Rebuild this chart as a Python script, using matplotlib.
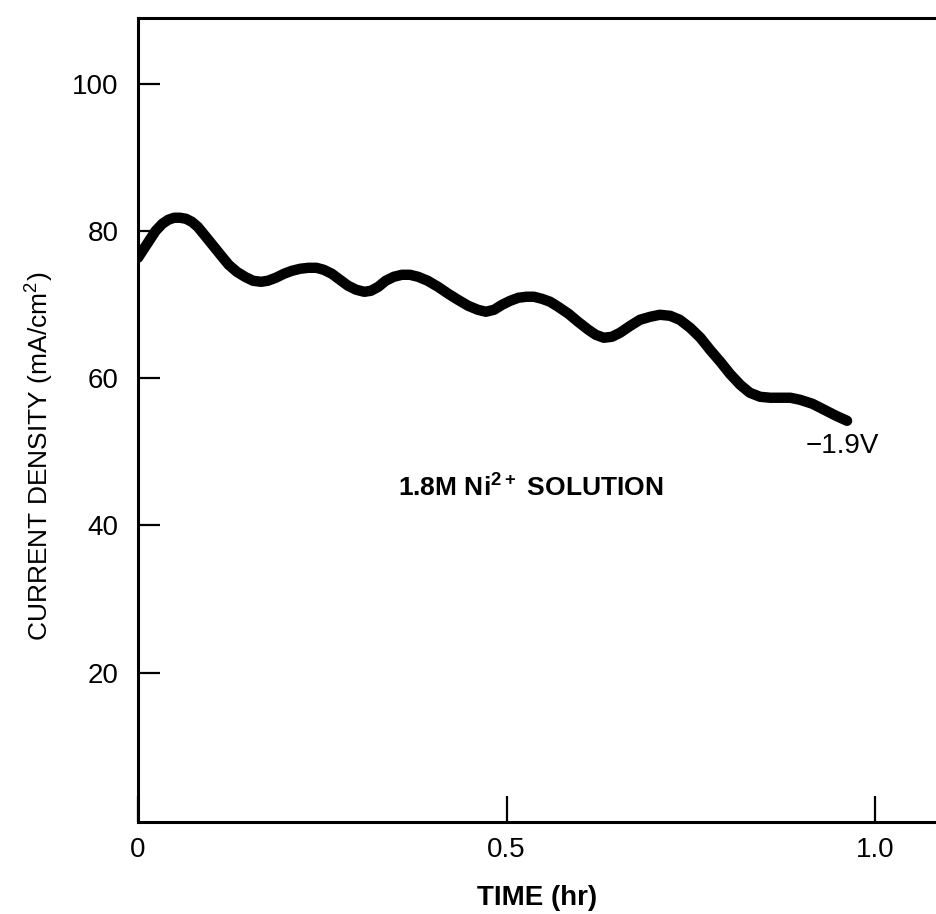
import numpy as np
import matplotlib
matplotlib.use('Agg')
import matplotlib.pyplot as plt

plt.rcParams['font.family'] = ['Liberation Sans', 'DejaVu Sans']
plt.rcParams['mathtext.fontset'] = 'custom'
plt.rcParams['mathtext.rm'] = 'Liberation Sans'
plt.rcParams['mathtext.bf'] = 'Liberation Sans:bold'

# curve (time in hr, current density in mA/cm^2)
time_hr = [0.000, 0.008, 0.016, 0.024, 0.033, 0.041, 0.049, 0.057, 0.065, 0.073,
           0.081, 0.091, 0.102, 0.113, 0.123, 0.134, 0.145, 0.156, 0.167, 0.176,
           0.187, 0.198, 0.209, 0.220, 0.231, 0.242, 0.252, 0.263, 0.274, 0.285,
           0.296, 0.307, 0.316, 0.326, 0.336, 0.347, 0.358, 0.369, 0.380, 0.393,
           0.407, 0.421, 0.434, 0.448, 0.461, 0.472, 0.483, 0.494, 0.505, 0.516,
           0.527, 0.537, 0.548, 0.559, 0.570, 0.584, 0.597, 0.611, 0.621, 0.632,
           0.643, 0.654, 0.668, 0.681, 0.695, 0.708, 0.722, 0.735, 0.749, 0.763,
           0.776, 0.790, 0.803, 0.817, 0.830, 0.844, 0.858, 0.871, 0.885, 0.898,
           0.915, 0.931, 0.947, 0.962]
current_density = [76.33, 77.56, 78.78, 80.00, 80.95, 81.49, 81.77, 81.77, 81.63, 81.22,
                   80.54, 79.32, 77.96, 76.60, 75.38, 74.43, 73.75, 73.21, 73.07, 73.21,
                   73.62, 74.16, 74.57, 74.84, 74.97, 74.97, 74.70, 74.16, 73.34, 72.53,
                   71.99, 71.71, 71.85, 72.39, 73.21, 73.75, 74.02, 74.02, 73.75, 73.21,
                   72.39, 71.44, 70.63, 69.81, 69.27, 69.00, 69.27, 69.95, 70.49, 70.90,
                   71.04, 71.04, 70.76, 70.36, 69.68, 68.73, 67.64, 66.55, 65.87, 65.47,
                   65.60, 66.15, 67.10, 67.91, 68.32, 68.59, 68.45, 67.91, 66.83, 65.47,
                   63.84, 62.21, 60.58, 59.08, 58.00, 57.45, 57.32, 57.32, 57.32, 57.05,
                   56.50, 55.69, 54.87, 54.19]

xticks = [0, 0.5, 1.0]
xtick_labels = ['0', '0.5', '1.0']
yticks = [20, 40, 60, 80, 100]

fig = plt.figure(figsize=(9.37, 9.14), dpi=100)
ax = fig.add_axes([0.1473, 0.1007, 0.8527, 0.8796])

ax.plot(time_hr, current_density, color='black', lw=7.5,
        solid_joinstyle='round', solid_capstyle='round')

ax.set_xlim(0, 1.084)
ax.set_ylim(-0.3, 108.9)

ax.set_xticks(xticks)
ax.set_xticklabels(xtick_labels)
ax.set_yticks(yticks)

ax.tick_params(axis='y', direction='in', length=16, width=1.6, pad=14, labelsize=20)
ax.tick_params(axis='x', direction='in', length=19, width=1.6, pad=11, labelsize=20)

for s in ['left', 'bottom', 'top']:
    ax.spines[s].set_linewidth(2.2)
ax.spines['right'].set_visible(False)

ax.set_xlabel('TIME (hr)', fontsize=20, fontweight='bold', labelpad=16)
ax.set_ylabel('CURRENT DENSITY (mA/cm$^{2}$)', fontsize=19)
ax.yaxis.set_label_coords(-0.104, 0.455)

ax.text(0.533, 45.3, r'1.8M Ni$^{\mathbf{2+}}$ SOLUTION', fontsize=19,
        fontweight='bold', ha='center', va='center')
ax.text(0.955, 50.7, '\u22121.9V', fontsize=20, ha='center', va='center')

fig.savefig('out.png', dpi=100)
